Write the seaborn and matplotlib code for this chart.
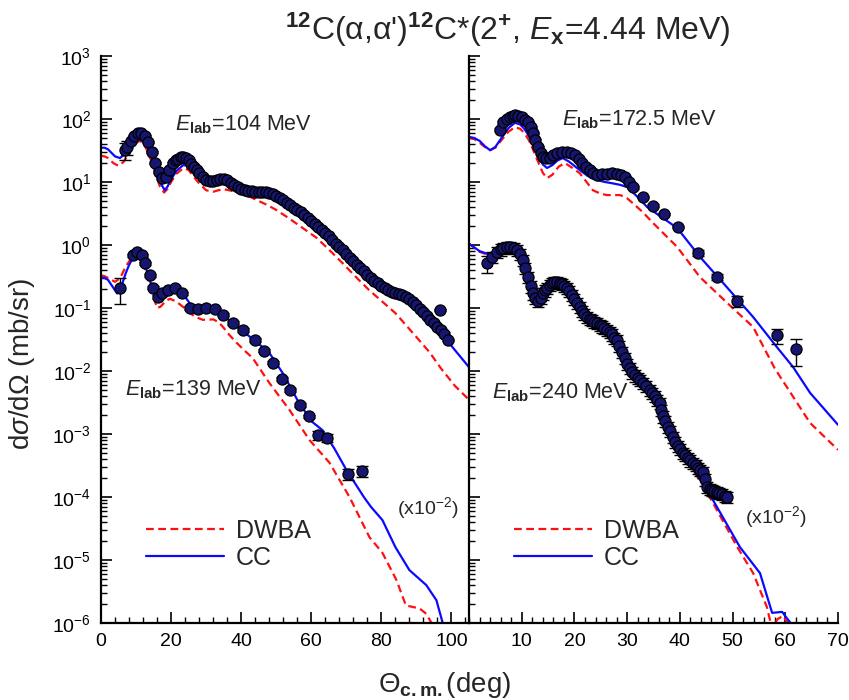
import numpy as np
import pandas as pd
import matplotlib
matplotlib.use("Agg")
import matplotlib.pyplot as plt
import seaborn as sns
from matplotlib.ticker import MultipleLocator, LogLocator, NullFormatter
from matplotlib.lines import Line2D

# ---------------- data ----------------
# 104 MeV (left, upper)
theta104 = [6.8, 7.5, 8.5, 9.5, 10.5, 11.5, 12.5, 13.5, 14.5, 15.5, 16.5, 17.5, 18.5, 19.5, 20.5, 21.3, 22, 22.8,
            23.5, 24.3, 25, 25.8, 26.5, 27.3, 28, 29,
            30, 31, 32, 33, 34, 35, 36, 37, 38, 39, 40, 41, 42, 43, 44, 45, 46, 47, 48, 49, 50, 51, 52, 53, 54,
            55, 56, 57, 58, 59, 60, 61, 62, 63, 64, 65, 66, 67, 68, 69, 70, 71, 72, 73, 74, 75, 76, 77, 78, 79,
            80, 81, 82, 83, 84, 85, 86, 87, 88, 89, 90, 91, 92, 93, 94, 95, 96, 96.6, 97, 98, 99]
sig104 = [32, 36, 45, 54, 60, 60, 54, 43, 30, 20, 14.4, 11.6, 12, 15.5, 20, 22, 23, 24.5,
          25, 24, 22, 19.5, 17.4, 15.5, 13.8, 12,
          10.7, 10.4, 10.4, 10.8, 11.2, 11.0, 10.7, 9.8, 8.9, 8.2, 7.7, 7.4, 7.2, 7.1, 7.0, 7.0, 7.0, 6.9, 6.8,
          6.4, 6.0, 5.6, 5.2, 4.7, 4.3, 3.9, 3.6, 3.3, 3.0, 2.7, 2.4, 2.15, 1.9, 1.72, 1.55, 1.37, 1.2, 1.05,
          0.93, 0.82, 0.72, 0.63, 0.56, 0.49, 0.43, 0.38, 0.33, 0.30, 0.27, 0.245, 0.22, 0.205, 0.19, 0.18,
          0.17, 0.165, 0.16, 0.15, 0.14, 0.125, 0.11, 0.098, 0.087, 0.075, 0.065, 0.057, 0.05, 0.093, 0.044,
          0.039, 0.031]
err104 = [0.3, 0.25] + [0.05] * 95

cc104_t = [0, 1, 2, 3, 4, 5.4, 6.5, 8, 9.5, 11, 12, 13, 14.3, 15.5, 16.8, 18.2, 19, 20, 21.5, 23.5, 24.8, 26, 27.5,
           29, 30.5, 32, 33.5, 35, 37, 40, 42.5, 45, 47.5, 50, 55, 60, 65, 70, 75, 80, 85, 90, 95, 100, 105]
cc104_v = [35, 35, 33, 29, 25.5, 24, 27, 38, 45, 47, 44, 38, 27, 17, 10, 7.4, 8.5, 11, 15, 18.6, 18, 15, 12.5,
           10.5, 9.6, 9.5, 10, 10.5, 9.8, 8.0, 7.3, 7.0, 6.7, 6.0, 4.0, 2.4, 1.5, 0.75, 0.38, 0.21, 0.15, 0.1,
           0.055, 0.025, 0.0115]
dw104_t = [0, 1, 2, 3.5, 5, 6.5, 8, 9.5, 11, 12, 13, 14.3, 15.5, 16.8, 18, 19, 20, 21.5, 23.5, 25, 26.5, 28, 30,
           32, 33.5, 35, 37, 40, 42.5, 45, 47.5, 50, 53, 55.7, 61.5, 65, 69, 73, 76.6, 80, 84, 89, 93.7, 97, 101, 105]
dw104_v = [26, 25.5, 24, 20, 18, 21, 30, 40, 45, 42, 33, 22, 14, 8.5, 6.8, 7.8, 10, 13.5, 16.6, 15.5, 12, 9.5, 7.4,
           7.0, 7.4, 7.7, 7.3, 6.5, 5.8, 5.0, 4.3, 3.6, 2.8, 2.2, 1.3, 0.85, 0.51, 0.3, 0.19, 0.13, 0.083, 0.04,
           0.02, 0.011, 0.0058, 0.0035]

# 139 MeV (left, lower, x10^-2)
theta139 = [5.4, 9.1, 10.2, 11.7, 12.5, 14, 14.8, 16.2, 17.4, 19, 21, 23, 25.4, 27.6, 30, 32.5, 34.8, 37.6,
            40.5, 43.9, 46.5, 49, 51.6, 54, 56.7, 59.3, 61.8, 64.4, 70.4, 74.6]
sig139 = [0.21, 0.69, 0.78, 0.69, 0.51, 0.33, 0.21, 0.15, 0.17, 0.19, 0.21, 0.17, 0.10, 0.095, 0.10, 0.095, 0.078, 0.058,
          0.045, 0.031, 0.021, 0.0135, 0.0075, 0.005, 0.0029, 0.0019, 0.00096, 0.00087, 0.00023, 0.00026]
err139 = [0.45] + [0.06] * 25 + [0.15, 0.15, 0.2, 0.2]

cc139_t = [0, 1, 2, 3.5, 4.6, 5.8, 7, 8, 8.8, 9.7, 10.5, 11.5, 13, 14.5, 16.5, 17.5, 19, 21, 22.5, 24, 25.5, 27,
           28.5, 30, 32, 33.5, 35, 37.5, 40, 44, 48, 52, 56, 60, 63.2, 66.5, 70, 75, 77, 80.3, 84, 88, 92.8, 95.7,
           97.5, 98.5]
cc139_v = [0.30, 0.30, 0.28, 0.21, 0.17, 0.22, 0.35, 0.48, 0.58, 0.7, 0.75, 0.65, 0.4, 0.22, 0.13, 0.14, 0.17, 0.2,
           0.18, 0.15, 0.115, 0.09, 0.085, 0.09, 0.09, 0.085, 0.075, 0.058, 0.045, 0.03, 0.0195, 0.009, 0.0035,
           0.0016, 0.00115, 0.0006, 0.00027, 0.0001, 7e-5, 4.3e-5, 1.6e-5, 6.9e-6, 4e-6, 2.3e-6, 1e-6, 5e-7]
dw139_t = [0, 1, 2, 4, 5.5, 7, 8.5, 10, 11.5, 13, 14.5, 16, 17, 18.5, 19.7, 21, 22, 23.8, 25.4, 27, 29, 30.5, 32,
           33.5, 34.8, 36.5, 38.7, 41, 43.3, 48, 53.8, 59.5, 65.2, 70.9, 76.6, 80.3, 84.3, 87, 90.9, 92.8, 94.3, 95]
dw139_v = [0.33, 0.32, 0.30, 0.26, 0.3, 0.45, 0.6, 0.7, 0.6, 0.35, 0.18, 0.1, 0.105, 0.13, 0.14, 0.13, 0.12, 0.1,
           0.083, 0.072, 0.065, 0.065, 0.066, 0.06, 0.05, 0.038, 0.028, 0.021, 0.016, 0.0065, 0.0024, 0.0008,
           0.00035, 0.0001, 2.3e-5, 1.3e-5, 4.8e-6, 1.9e-6, 1.7e-6, 1.4e-6, 1e-6, 7e-7]

# 172.5 MeV (right, upper)
theta172 = [5.9, 6.5, 7.2, 7.8, 8.3, 8.7, 9.3, 10, 10.6, 11.2, 11.7, 12.1, 12.6, 13.1, 13.6, 14, 14.7, 15.4, 16,
            16.7, 17.6, 18.6, 19.4, 20.1, 20.8, 21.4, 22.2, 23, 23.6, 24.3, 25.2, 26.2, 27.1, 28.1, 28.9, 29.6,
            30.4, 31.1, 33, 34.9, 37, 39.7, 43.5, 47, 50.9, 58.4, 62]
sig172 = [68, 89, 100, 107, 112, 115, 113, 107, 98, 89, 75, 60, 46, 36, 29, 25, 24, 24, 26.5,
          29, 30, 30, 29, 27, 23, 20, 17.5, 15.5, 14, 12.9, 13.2, 13.6, 13.8, 13.6, 13, 12,
          10, 8.3, 5.8, 4.2, 3.1, 1.94, 0.75, 0.31, 0.13, 0.037, 0.022]
err172 = [0.05] * 42 + [0.1, 0.1, 0.2, 0.27, 0.45]

cc172_t = [0, 1, 2, 3, 4, 5, 6.5, 7.5, 8.7, 9.7, 10.5, 11.3, 12, 13, 14, 14.8, 15.8, 16.8, 17.8, 19, 20, 21, 22.5,
           24.3, 25.8, 27.3, 28.7, 30, 31.8, 33.8, 39.5, 43.8, 49, 53.9, 58.4, 61.5, 64.7, 70]
cc172_v = [52, 50, 45, 37, 32, 36, 55, 72, 87, 82, 70, 55, 42, 28, 19, 16.7, 18.5, 22, 24, 21, 18, 15.5, 12.5,
           10.7, 10, 9.5, 9, 8.3, 6, 4.0, 1.86, 0.65, 0.21, 0.072, 0.024, 0.0115, 0.0045, 0.0014]
dw172_t = [0, 1, 2, 3, 4, 5, 6.5, 7.5, 8.7, 9.7, 10.5, 11.3, 12, 13, 14, 14.8, 15.8, 17, 18.2, 19.5, 21, 22.3, 23.5,
           25, 26.2, 27.5, 28.7, 30, 31.1, 33, 35, 39.5, 43.8, 49, 53.9, 58, 64.7, 70]
dw172_v = [50, 48, 42, 36, 32, 35, 50, 63, 74, 70, 60, 47, 35, 22, 14, 11.5, 13, 17.5, 20, 17, 13.8, 10, 7.4,
           6.5, 6.2, 6.2, 6.2, 5.5, 4.6, 3.3, 2.2, 0.93, 0.31, 0.12, 0.05, 0.011, 0.0015, 0.00056]

# 240 MeV (right, lower, x10^-2)
theta240 = [3.4, 4.4, 5.3, 6.0, 6.5, 7.2, 7.8, 8.5, 9.1, 9.7, 10.2, 10.7, 11.2, 11.7, 12.1, 12.6, 13.1, 13.6, 14,
            14.4, 14.8, 15.3, 15.8, 16.2, 16.7, 17.2, 17.7, 18.1, 18.6, 19, 19.5, 20, 20.5, 21, 21.4, 21.9, 22.4,
            22.9, 23.3, 23.8, 24.3, 24.8, 25.2, 25.7, 26.2, 26.7, 27.1, 27.6, 28.1, 28.5, 29, 29.5, 30, 30.5, 31,
            31.5, 32, 32.5, 33, 33.6, 34.3, 34.8, 35.2, 35.7, 36.2, 36.5, 36.8, 37.2, 37.7, 38.2, 38.7, 39.1, 39.6,
            40.1, 40.6, 41, 41.5, 42, 42.5, 43, 43.4, 43.9, 44.4, 44.8, 45.2, 45.7, 46.1, 46.5, 47, 47.5, 48, 48.5, 49]
sig240 = [0.51, 0.65, 0.77, 0.85, 0.89, 0.92, 0.93, 0.9, 0.83, 0.72, 0.58, 0.43, 0.31, 0.22, 0.17, 0.145, 0.13,
          0.145, 0.17, 0.19, 0.21, 0.235, 0.25, 0.26, 0.26, 0.25, 0.24, 0.225, 0.21, 0.185, 0.16, 0.14, 0.12, 0.105,
          0.09, 0.08, 0.072, 0.068, 0.064, 0.061, 0.058, 0.054, 0.051, 0.048, 0.045, 0.041, 0.038, 0.034, 0.031,
          0.025, 0.02, 0.016, 0.013, 0.011, 0.0095, 0.0085, 0.0078, 0.0072, 0.0065, 0.0058, 0.005, 0.0045, 0.004,
          0.0035, 0.0031, 0.0024, 0.0019, 0.0016, 0.0013, 0.0011, 0.00089, 0.00076, 0.00065, 0.00057, 0.0005,
          0.00046, 0.00042, 0.00038, 0.00035, 0.00032, 0.00029, 0.00027, 0.00025, 0.00019, 0.000145, 0.000135,
          0.00013, 0.000125, 0.00012, 0.000115, 0.00011, 0.000105, 0.0001]
err240 = [0.3] + [0.2] * 92

cc240_t = [0, 2, 4, 6, 8, 10, 12, 13.5, 16.5, 19, 21, 24, 28, 32, 36, 40, 44, 46.3, 51.4, 55.2, 57.5, 59.4, 61, 62]
cc240_v = [1.05, 0.8, 0.7, 0.85, 0.9, 0.6, 0.2, 0.13, 0.23, 0.18, 0.1, 0.06, 0.03, 0.008, 0.0025, 0.0006, 0.00018,
           8.9e-5, 1.6e-5, 6.2e-6, 1.45e-6, 1.5e-6, 1e-6, 7e-7]
dw240_t = [0, 2, 4, 6, 8, 10, 12, 13.5, 16.5, 19, 21, 24, 28, 32, 36, 40, 44, 46.3, 50.9, 53.9, 56.5, 57.5, 58.5,
           59.6, 60.8]
dw240_v = [1.05, 0.78, 0.68, 0.82, 0.88, 0.58, 0.19, 0.125, 0.22, 0.17, 0.095, 0.058, 0.029, 0.0078, 0.0024, 0.00058,
           0.00017, 8e-5, 1.6e-5, 6.2e-6, 1.8e-6, 8e-7, 1.15e-6, 1.3e-6, 9e-7]

# ---------------- style ----------------
sns.set_theme(style="ticks")
FONT = "Liberation Sans"
plt.rcParams["font.family"] = [FONT, "DejaVu Sans"]
plt.rcParams["mathtext.fontset"] = "custom"
plt.rcParams["mathtext.rm"] = FONT
plt.rcParams["mathtext.it"] = FONT + ":italic"
plt.rcParams["mathtext.bf"] = FONT + ":bold"
plt.rcParams["mathtext.sf"] = FONT

BLUE = "#0a0aff"
RED = "#ff1010"
DOT = "#161670"
DASH = (0, (3.5, 2))

fig = plt.figure(figsize=(8.49, 7.0), dpi=100)
axL = fig.add_axes([101 / 849, 1 - 623 / 700, 368 / 849, 567 / 700])
axR = fig.add_axes([469 / 849, 1 - 623 / 700, 369 / 849, 567 / 700])


def draw_curves(ax, t, v, color, ls):
    df = pd.DataFrame({"t": t, "v": v})
    sns.lineplot(data=df, x="t", y="v", ax=ax, color=color, linestyle=ls, linewidth=1.6,
                 estimator=None, sort=False, zorder=2)


def draw_data(ax, t, v, e):
    t = np.asarray(t, float)
    v = np.asarray(v, float)
    e = np.asarray(e, float)
    ax.errorbar(t, v, yerr=v * e, fmt="none", ecolor="black", elinewidth=1.0, capsize=4.5, capthick=1.0, zorder=3)
    df = pd.DataFrame({"t": t, "v": v})
    sns.scatterplot(data=df, x="t", y="v", ax=ax, color=DOT, edgecolor="black", linewidth=0.9, s=64, zorder=4)


for ax in (axL, axR):
    ax.set_yscale("log")

draw_curves(axL, dw104_t, dw104_v, RED, DASH)
draw_curves(axL, cc104_t, cc104_v, BLUE, "-")
draw_curves(axL, dw139_t, dw139_v, RED, DASH)
draw_curves(axL, cc139_t, cc139_v, BLUE, "-")
draw_data(axL, theta104, sig104, err104)
draw_data(axL, theta139, sig139, err139)

draw_curves(axR, dw172_t, dw172_v, RED, DASH)
draw_curves(axR, cc172_t, cc172_v, BLUE, "-")
draw_curves(axR, dw240_t, dw240_v, RED, DASH)
draw_curves(axR, cc240_t, cc240_v, BLUE, "-")
draw_data(axR, theta172, sig172, err172)
draw_data(axR, theta240, sig240, err240)

TICK_FS = 14
for ax, xmax, maj, mnr in ((axL, 105, 20, 4), (axR, 70, 10, 2)):
    ax.set_xlim(0, xmax)
    ax.set_ylim(1e-6, 1e3)
    ax.xaxis.set_major_locator(MultipleLocator(maj))
    ax.xaxis.set_minor_locator(MultipleLocator(mnr))
    ax.yaxis.set_major_locator(LogLocator(base=10, numticks=20))
    ax.yaxis.set_minor_locator(LogLocator(base=10, subs=np.arange(2, 10), numticks=20))
    ax.yaxis.set_minor_formatter(NullFormatter())
    ax.set_xlabel("")
    ax.set_ylabel("")
    for s in ("top", "right"):
        ax.spines[s].set_visible(False)
    for s in ("left", "bottom"):
        ax.spines[s].set_linewidth(1.6)
        ax.spines[s].set_color("black")
    ax.tick_params(which="major", direction="in", length=8, width=1.2, labelsize=TICK_FS, colors="black", pad=7)
    ax.tick_params(which="minor", direction="in", length=4.5, width=1.0, colors="black")
    ax.patch.set_alpha(0)

axR.set_xticks([10, 20, 30, 40, 50, 60, 70])
axR.tick_params(axis="y", which="both", labelleft=False)

# annotations
ANN = 15.5
axL.text(0.20, 0.878, r"$\mathit{E}_{\mathbf{lab}}$=104 MeV", transform=axL.transAxes, fontsize=ANN, va="center")
axL.text(0.065, 0.411, r"$\mathit{E}_{\mathbf{lab}}$=139 MeV", transform=axL.transAxes, fontsize=ANN, va="center")
axL.text(0.804, 0.203, r"(x10$^{\mathregular{-2}}$)", transform=axL.transAxes, fontsize=14, va="center")
axR.text(0.252, 0.887, r"$\mathit{E}_{\mathbf{lab}}$=172.5 MeV", transform=axR.transAxes, fontsize=ANN, va="center")
axR.text(0.062, 0.407, r"$\mathit{E}_{\mathbf{lab}}$=240 MeV", transform=axR.transAxes, fontsize=ANN, va="center")
axR.text(0.748, 0.187, r"(x10$^{\mathregular{-2}}$)", transform=axR.transAxes, fontsize=14, va="center")

handles = [Line2D([], [], color=RED, linestyle=DASH, linewidth=1.6),
           Line2D([], [], color=BLUE, linestyle="-", linewidth=1.6)]
labels = ["DWBA", "CC"]
for ax in (axL, axR):
    ax.legend(handles, labels, loc="upper left", bbox_to_anchor=(0.075, 0.215), frameon=False, fontsize=18,
              handlelength=3.1, handletextpad=0.5, labelspacing=0.12, borderpad=0.2)

fig.text(0.598, 0.957,
         r"$^{\mathbf{12}}$C(α,α')$^{\mathbf{12}}$C*(2$^{\mathbf{+}}$, $\mathit{E}_{\mathbf{x}}$=4.44 MeV)",
         ha="center", va="center", fontsize=23)
fig.text(0.524, 0.022, r"$\Theta_{\mathbf{c.m.}}$(deg)", ha="center", va="center", fontsize=20)
fig.text(0.026, 0.48, r"d$\sigma$/d$\Omega$ (mb/sr)", ha="center", va="center", rotation=90, fontsize=20)

fig.savefig("out.png", dpi=100)
